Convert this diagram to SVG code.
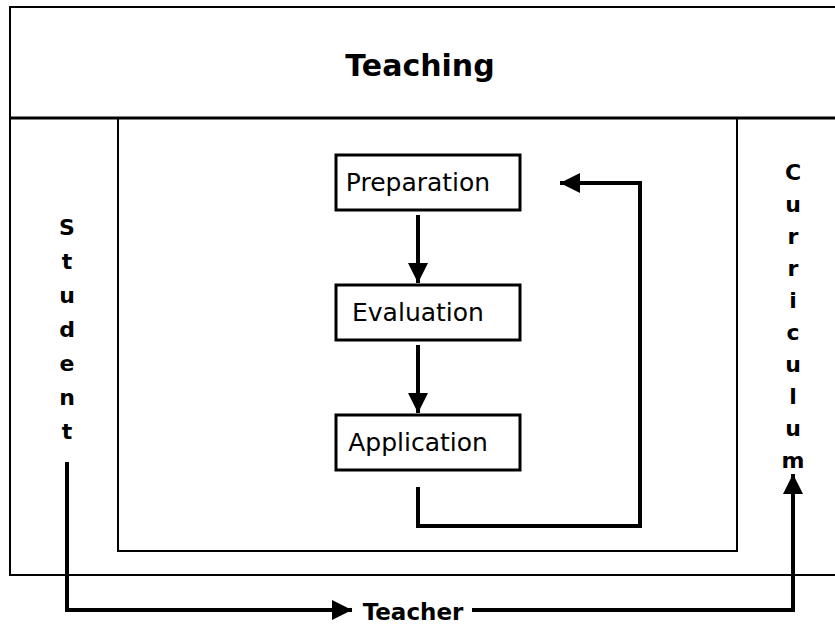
<svg xmlns="http://www.w3.org/2000/svg" width="835" height="628" viewBox="0 0 835 628">
<defs>
<style>
.t{font-family:"DejaVu Sans","Liberation Sans",sans-serif;fill:#000}
.b{font-weight:bold}
.box{fill:#fff;stroke:#000;stroke-width:3}
.ln{fill:none;stroke:#000;stroke-width:2}
.c{fill:none;stroke:#000;stroke-width:4}
</style>
<marker id="ah" viewBox="0 0 10 10" refX="10" refY="5" markerWidth="5" markerHeight="5" markerUnits="strokeWidth" orient="auto">
<path d="M0,0 L10,5 L0,10 z" fill="#000"/>
</marker>
</defs>
<rect width="835" height="628" fill="#fff"/>
<g id="teaching">
<path class="ln" d="M835,7 H10 V575 H835"/>
<line x1="10" y1="118" x2="835" y2="118" stroke="#000" stroke-width="3"/>
<text class="t b" x="420" y="76" font-size="30" text-anchor="middle">Teaching</text>
</g>
<g id="inner">
<rect x="118" y="118" width="619" height="433" fill="none" stroke="#000" stroke-width="2"/>
</g>
<g id="preparation">
<rect class="box" x="336" y="155" width="184" height="55"/>
<text class="t" x="418" y="191" font-size="25" text-anchor="middle">Preparation</text>
</g>
<g id="evaluation">
<rect class="box" x="336" y="285" width="184" height="55"/>
<text class="t" x="418" y="321" font-size="25" text-anchor="middle">Evaluation</text>
</g>
<g id="application">
<rect class="box" x="336" y="415" width="184" height="55"/>
<text class="t" x="418" y="451" font-size="25" text-anchor="middle">Application</text>
</g>
<g id="student">
<text class="t b" font-size="22" text-anchor="middle"><tspan x="67" y="235">S</tspan><tspan x="67" y="269">t</tspan><tspan x="67" y="303">u</tspan><tspan x="67" y="337">d</tspan><tspan x="67" y="371">e</tspan><tspan x="67" y="405">n</tspan><tspan x="67" y="439">t</tspan></text>
</g>
<g id="curriculum">
<text class="t b" font-size="22" text-anchor="middle"><tspan x="793" y="180">C</tspan><tspan x="793" y="212">u</tspan><tspan x="793" y="244">r</tspan><tspan x="793" y="276">r</tspan><tspan x="793" y="308">i</tspan><tspan x="793" y="340">c</tspan><tspan x="793" y="372">u</tspan><tspan x="793" y="404">l</tspan><tspan x="793" y="436">u</tspan><tspan x="793" y="468">m</tspan></text>
</g>
<g id="teacher">
<text class="t b" x="413" y="620" font-size="23" text-anchor="middle">Teacher</text>
</g>
<g id="connectors">
<path class="c" d="M418,215 V283" marker-end="url(#ah)"/>
<path class="c" d="M418,345 V413" marker-end="url(#ah)"/>
<path class="c" d="M418,487 V526 H640 V183 H560" marker-end="url(#ah)"/>
<path class="c" d="M67,462 V610 H352" marker-end="url(#ah)"/>
<path class="c" d="M472,610 H793 V474" marker-end="url(#ah)"/>
</g>
</svg>
